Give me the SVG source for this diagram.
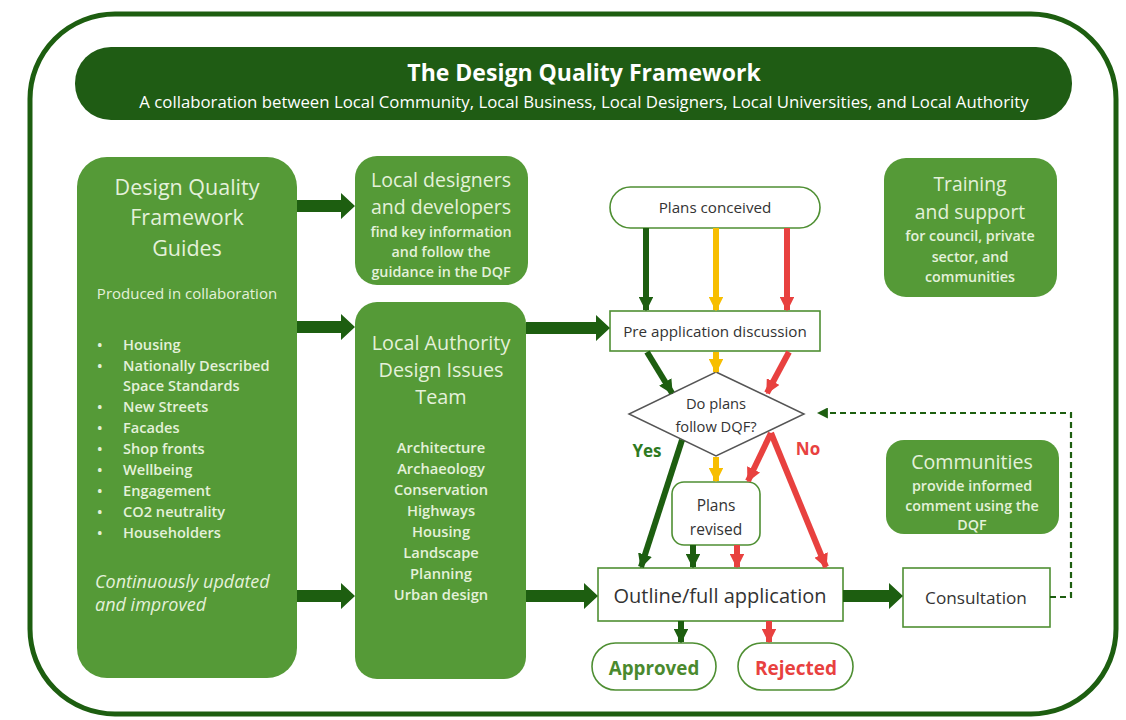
<svg xmlns="http://www.w3.org/2000/svg" width="1126" height="720" viewBox="0 0 1126 720">
<defs>
<style>
text{font-family:"Open Sans","Liberation Sans",sans-serif;}
.lt{fill:#e4f1da;text-anchor:middle;}
.ll{fill:#e4f1da;}
.dk{fill:#333;text-anchor:middle;}
.box{fill:#559a37;}
.wb{fill:#fff;stroke:#4f8f33;stroke-width:1.6;}
.thick{fill:#1d5e10;}
.g{stroke:#1d5e10;stroke-width:6;fill:none;}
.y{stroke:#f7be00;stroke-width:6;fill:none;}
.r{stroke:#e8413f;stroke-width:6;fill:none;}
</style>
<marker id="mg" viewBox="0 0 10 10" refX="9" refY="5" markerWidth="2.4" markerHeight="2.4" orient="auto" markerUnits="strokeWidth"><path d="M0,0 L10,5 L0,10 z" fill="#1d5e10"/></marker>
<marker id="my" viewBox="0 0 10 10" refX="9" refY="5" markerWidth="2.4" markerHeight="2.4" orient="auto" markerUnits="strokeWidth"><path d="M0,0 L10,5 L0,10 z" fill="#f7be00"/></marker>
<marker id="mr" viewBox="0 0 10 10" refX="9" refY="5" markerWidth="2.4" markerHeight="2.4" orient="auto" markerUnits="strokeWidth"><path d="M0,0 L10,5 L0,10 z" fill="#e8413f"/></marker>
<marker id="md" viewBox="0 0 10 10" refX="9" refY="5" markerWidth="5" markerHeight="5" orient="auto" markerUnits="strokeWidth"><path d="M0,0 L10,5 L0,10 z" fill="#1d5e10"/></marker>
</defs>
<rect width="1126" height="720" fill="#fff"/>
<rect id="frame" x="30" y="14" width="1086" height="700" rx="85" fill="none" stroke="#1d5e10" stroke-width="5"/>

<g id="header">
<rect x="75" y="47" width="997" height="73" rx="36" fill="#1f5c14"/>
<text x="584" y="81" text-anchor="middle" fill="#fff" font-size="23" font-weight="bold">The Design Quality Framework</text>
<text x="584" y="108" text-anchor="middle" fill="#fff" font-size="16.8">A collaboration between Local Community, Local Business, Local Designers, Local Universities, and Local Authority</text>
</g>

<g id="guides">
<rect class="box" x="77" y="157" width="220" height="521" rx="30"/>
<text class="lt" x="187" y="195" font-size="21.5">Design Quality</text>
<text class="lt" x="187" y="225" font-size="21.5">Framework</text>
<text class="lt" x="187" y="256" font-size="21.5">Guides</text>
<text class="lt" x="187" y="299" font-size="15">Produced in collaboration</text>
<g font-size="14.6" font-weight="600">
<text class="ll" x="97" y="350">•</text><text class="ll" x="123" y="350">Housing</text>
<text class="ll" x="97" y="371">•</text><text class="ll" x="123" y="371">Nationally Described</text>
<text class="ll" x="123" y="391">Space Standards</text>
<text class="ll" x="97" y="412">•</text><text class="ll" x="123" y="412">New Streets</text>
<text class="ll" x="97" y="433">•</text><text class="ll" x="123" y="433">Facades</text>
<text class="ll" x="97" y="454">•</text><text class="ll" x="123" y="454">Shop fronts</text>
<text class="ll" x="97" y="475">•</text><text class="ll" x="123" y="475">Wellbeing</text>
<text class="ll" x="97" y="496">•</text><text class="ll" x="123" y="496">Engagement</text>
<text class="ll" x="97" y="517">•</text><text class="ll" x="123" y="517">CO2 neutrality</text>
<text class="ll" x="97" y="538">•</text><text class="ll" x="123" y="538">Householders</text>
</g>
<text class="ll" x="95" y="588" font-size="18" font-style="italic">Continuously updated</text>
<text class="ll" x="95" y="611" font-size="18" font-style="italic">and improved</text>
</g>

<g id="designers">
<rect class="box" x="355" y="156" width="173" height="129" rx="22"/>
<text class="lt" x="441" y="187" font-size="19.5">Local designers</text>
<text class="lt" x="441" y="214" font-size="19.5">and developers</text>
<text class="lt" x="441" y="237" font-size="14.3" font-weight="600">find key information</text>
<text class="lt" x="441" y="257" font-size="14.3" font-weight="600">and follow the</text>
<text class="lt" x="441" y="277" font-size="14.3" font-weight="600">guidance in the DQF</text>
</g>

<g id="team">
<rect class="box" x="355" y="302" width="171" height="377" rx="22"/>
<text class="lt" x="441" y="350" font-size="19.8">Local Authority</text>
<text class="lt" x="441" y="377" font-size="19.8">Design Issues</text>
<text class="lt" x="441" y="404" font-size="19.8">Team</text>
<g font-size="14.7" font-weight="600">
<text class="lt" x="441" y="453">Architecture</text>
<text class="lt" x="441" y="474">Archaeology</text>
<text class="lt" x="441" y="495">Conservation</text>
<text class="lt" x="441" y="516">Highways</text>
<text class="lt" x="441" y="537">Housing</text>
<text class="lt" x="441" y="558">Landscape</text>
<text class="lt" x="441" y="579">Planning</text>
<text class="lt" x="441" y="600">Urban design</text>
</g>
</g>

<g id="training">
<rect class="box" x="884" y="158" width="173" height="139" rx="22"/>
<text class="lt" x="970" y="191" font-size="19.3">Training</text>
<text class="lt" x="970" y="219" font-size="19.3">and support</text>
<text class="lt" x="970" y="241" font-size="14.3" font-weight="600">for council, private</text>
<text class="lt" x="970" y="262" font-size="14.3" font-weight="600">sector, and</text>
<text class="lt" x="970" y="282" font-size="14.3" font-weight="600">communities</text>
</g>

<g id="communities">
<rect class="box" x="886" y="440" width="173" height="94" rx="18"/>
<text class="lt" x="972" y="469" font-size="19.6">Communities</text>
<text class="lt" x="972" y="491" font-size="14.3" font-weight="600">provide informed</text>
<text class="lt" x="972" y="511" font-size="14.3" font-weight="600">comment using the</text>
<text class="lt" x="972" y="530" font-size="14.3" font-weight="600">DQF</text>
</g>

<g id="conceived">
<rect class="wb" x="610" y="187" width="210" height="41" rx="20.5"/>
<text class="dk" x="715" y="213" font-size="15.2">Plans conceived</text>
</g>
<g id="preapp">
<rect class="wb" x="610" y="311" width="210" height="40"/>
<text class="dk" x="715" y="337" font-size="15.2">Pre application discussion</text>
</g>
<g id="decision">
<path d="M716,372 L804,414 L716,456 L629,414 Z" fill="#fff" stroke="#555" stroke-width="1.5"/>
<text class="dk" x="716" y="409" font-size="14.7">Do plans</text>
<text class="dk" x="716" y="432" font-size="14.7">follow DQF?</text>
</g>
<g id="revised">
<rect class="wb" x="672" y="482" width="88" height="63" rx="12"/>
<text class="dk" x="716" y="511" font-size="15.5">Plans</text>
<text class="dk" x="716" y="535" font-size="15.5">revised</text>
</g>
<g id="outline">
<rect class="wb" x="598" y="568" width="245" height="53"/>
<text class="dk" x="720" y="603" font-size="20">Outline/full application</text>
</g>
<g id="consultation">
<rect class="wb" x="903" y="568" width="147" height="59"/>
<text class="dk" x="976" y="604" font-size="17.2">Consultation</text>
</g>
<g id="approved">
<rect class="wb" x="592" y="643" width="124" height="47" rx="23.5"/>
<text x="654" y="675" text-anchor="middle" font-size="18.8" font-weight="bold" fill="#4a8a2e">Approved</text>
</g>
<g id="rejected">
<rect class="wb" x="738" y="643" width="115" height="47" rx="23.5"/>
<text x="796" y="675" text-anchor="middle" font-size="19" font-weight="bold" fill="#e8413f">Rejected</text>
</g>

<g id="connectors">
<path class="thick" d="M297,200 H341 V193 L355,206 L341,219 V212 H297 Z"/>
<path class="thick" d="M297,321 H341 V314 L355,327 L341,340 V333 H297 Z"/>
<path class="thick" d="M297,590 H341 V583 L355,596 L341,609 V602 H297 Z"/>
<path class="thick" d="M526,322 H596 V315 L610,328 L596,341 V334 H526 Z"/>
<path class="thick" d="M526,590 H584 V583 L598,596 L584,609 V602 H526 Z"/>
<path class="thick" d="M843,590 H889 V583 L903,596 L889,609 V602 H843 Z"/>

<line class="g" x1="646" y1="228" x2="646" y2="310" marker-end="url(#mg)"/>
<line class="y" x1="716" y1="228" x2="716" y2="310" marker-end="url(#my)"/>
<line class="r" x1="787" y1="228" x2="787" y2="310" marker-end="url(#mr)"/>
<line class="g" x1="647" y1="352" x2="672" y2="393" marker-end="url(#mg)"/>
<line class="y" x1="716" y1="352" x2="716" y2="372" marker-end="url(#my)"/>
<line class="r" x1="789" y1="352" x2="767" y2="393" marker-end="url(#mr)"/>
<line class="g" x1="682" y1="440" x2="641" y2="567" marker-end="url(#mg)"/>
<line class="y" x1="716" y1="457" x2="716" y2="481" marker-end="url(#my)"/>
<line class="r" x1="771" y1="433" x2="748" y2="481" marker-end="url(#mr)"/>
<line class="r" x1="771" y1="433" x2="826" y2="567" marker-end="url(#mr)"/>
<line class="g" x1="693" y1="545" x2="693" y2="567" marker-end="url(#mg)"/>
<line class="r" x1="737" y1="545" x2="737" y2="567" marker-end="url(#mr)"/>
<line class="g" x1="681" y1="621" x2="681" y2="642" marker-end="url(#mg)"/>
<line class="r" x1="769" y1="621" x2="769" y2="642" marker-end="url(#mr)"/>
<path d="M1050,597 H1071 V413 H818" fill="none" stroke="#1d5e10" stroke-width="2.2" stroke-dasharray="6,4" marker-end="url(#md)"/>
<text x="647" y="457" text-anchor="middle" font-size="17" font-weight="bold" fill="#2e7a1f">Yes</text>
<text x="808" y="455" text-anchor="middle" font-size="17" font-weight="bold" fill="#e8413f">No</text>
</g>
</svg>
